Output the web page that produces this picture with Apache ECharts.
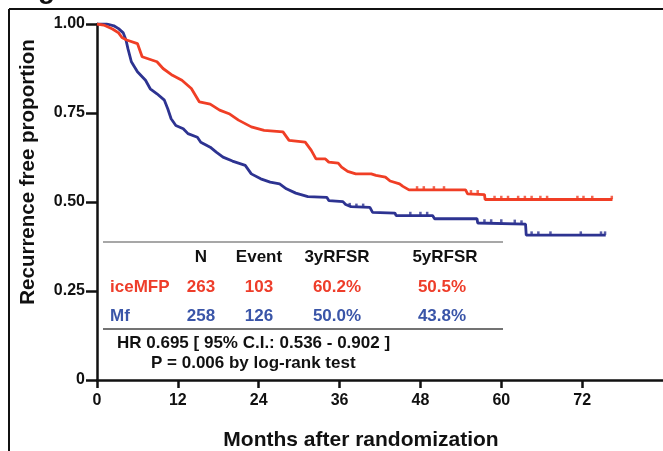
<!DOCTYPE html>
<html>
<head>
<meta charset="utf-8">
<script src="https://cdn.jsdelivr.net/npm/echarts@6/dist/echarts.min.js"></script>
<style>
html,body{margin:0;padding:0;background:#fff;}
#chart{width:663px;height:451px;}
</style>
</head>
<body>
<div id="chart"></div>
<script>
// Kaplan-Meier curves, [month, proportion]
var iceMFP = [
  [0,1.0],[1.0,0.997],[2.3,0.986],[3.2,0.975],[3.7,0.962],[4.4,0.955],[6.0,0.945],[6.7,0.908],
  [8.9,0.894],[9.8,0.875],[11.2,0.856],[12.6,0.842],[14.0,0.819],[15.2,0.781],[16.8,0.775],
  [18.2,0.758],[19.6,0.748],[21.0,0.73],[22.9,0.711],[24.8,0.701],[27.6,0.697],[28.5,0.673],
  [30.9,0.668],[31.8,0.645],[32.5,0.621],[33.9,0.621],[34.4,0.612],[35.8,0.609],[36.3,0.598],
  [37.2,0.586],[38.4,0.579],[40.7,0.579],[41.4,0.575],[42.8,0.570],[43.5,0.559],[44.9,0.551],
  [45.4,0.544],[46.3,0.534],[54.7,0.534],[55.0,0.523],[57.5,0.521],[57.6,0.507],[76.5,0.507]
];
var Mf = [
  [0,1.0],[1.5,1.0],[2.5,0.995],[3.2,0.987],[3.9,0.975],[4.3,0.955],[4.6,0.93],[5.1,0.894],
  [6.0,0.866],[7.2,0.842],[7.9,0.818],[8.9,0.804],[10.0,0.786],[10.5,0.762],[11.0,0.734],
  [11.7,0.715],[12.8,0.706],[13.5,0.692],[14.9,0.682],[15.4,0.668],[16.8,0.654],[17.7,0.640],
  [18.7,0.626],[20.1,0.615],[22.0,0.603],[22.9,0.579],[24.3,0.565],[25.7,0.556],[27.1,0.551],
  [28.1,0.537],[29.5,0.525],[31.3,0.515],[34.1,0.513],[34.4,0.504],[36.5,0.501],[36.9,0.493],
  [37.7,0.487],[40.5,0.485],[40.9,0.471],[44.2,0.469],[44.4,0.462],[49.8,0.462],[50.1,0.453],
  [56.4,0.453],[56.5,0.441],[63.6,0.438],[63.7,0.407],[75.5,0.407]
];
// censored observations
var iceMFPCensor = [
  [47.5,0.534],[48.5,0.534],[50,0.534],[51.5,0.534],[55.5,0.523],[56.5,0.523],
  [59,0.507],[60,0.507],[61,0.507],[62.5,0.507],[63.5,0.507],[64.5,0.507],[65.8,0.507],
  [66.8,0.507],[71.3,0.507],[72.2,0.507],[73.5,0.507],[76.4,0.507]
];
var MfCensor = [
  [37.5,0.487],[38.5,0.485],[39.5,0.485],[46.5,0.462],[48,0.462],[49,0.462],
  [57.5,0.441],[58.5,0.441],[60,0.441],[62,0.440],[63,0.438],
  [64.5,0.407],[65.5,0.407],[67.3,0.407],[71.8,0.407],[74.8,0.407],[75.4,0.407]
];
var xTicks = [0,12,24,36,48,60,72];

// summary table
var tableHead = ['N','Event','3yRFSR','5yRFSR'];
var tableRows = [
  ['iceMFP','263','103','60.2%','50.5%'],
  ['Mf','258','126','50.0%','43.8%']
];
var hrText = 'HR 0.695 [ 95% C.I.: 0.536 - 0.902 ]';
var pText = 'P = 0.006 by log-rank test';

var RED = '#f03e25', BLUE = '#2d3391';
var TRED = '#ee3d2a', TBLUE = '#3a55a8';
var FONT = '"Liberation Sans", Arial, sans-serif';
var TF = 'bold 17px ' + FONT;

var chart = echarts.init(document.getElementById('chart'));

var colX = [201,259,337,445];
var rowY = [257,287,316];
var graphics = [
  // frame
  {type:'line',shape:{x1:9,y1:9,x2:663,y2:9},style:{stroke:'#111',lineWidth:2}},
  {type:'line',shape:{x1:9,y1:9,x2:9,y2:451},style:{stroke:'#111',lineWidth:2}},
  {type:'text',x:38,y:4,style:{text:'g',font:'bold 28px '+FONT,fill:'#111',textVerticalAlign:'bottom'}},
  // table rules
  {type:'line',shape:{x1:103,y1:242,x2:503,y2:242},style:{stroke:'#8a8a8a',lineWidth:1.5}},
  {type:'line',shape:{x1:103,y1:329,x2:503,y2:329},style:{stroke:'#444',lineWidth:1.5}},
  // axis titles
  {type:'text',x:361,y:440,style:{text:'Months after randomization',font:'bold 21px '+FONT,fill:'#111',textAlign:'center',textVerticalAlign:'middle'}},
  {type:'text',x:28,y:172,rotation:Math.PI/2,style:{text:'Recurrence free proportion',font:'bold 20.5px '+FONT,fill:'#111',textAlign:'center',textVerticalAlign:'middle'}},
  {type:'text',x:117,y:343,style:{text:hrText,font:TF,fill:'#111',textVerticalAlign:'middle'}},
  {type:'text',x:151,y:363,style:{text:pText,font:TF,fill:'#111',textVerticalAlign:'middle'}}
];
tableHead.forEach(function(h,i){
  graphics.push({type:'text',x:colX[i],y:rowY[0],style:{text:h,font:TF,fill:'#111',textAlign:'center',textVerticalAlign:'middle'}});
});
tableRows.forEach(function(r,j){
  var c = j===0 ? TRED : TBLUE;
  graphics.push({type:'text',x:110,y:rowY[j+1],style:{text:r[0],font:TF,fill:c,textVerticalAlign:'middle'}});
  for (var i=1;i<r.length;i++){
    graphics.push({type:'text',x:colX[i-1]-(i===4?3:0),y:rowY[j+1],style:{text:r[i],font:TF,fill:c,textAlign:'center',textVerticalAlign:'middle'}});
  }
});

function censorSeries(data,color){
  return {type:'scatter',data:data,symbol:'rect',symbolSize:[2.5,3.5],symbolOffset:[0,-2],
    itemStyle:{color:color},silent:true,z:4};
}

var option = {
  animation:false,
  backgroundColor:'#fff',
  grid:{left:97,top:24,width:84*7.117,height:356,containLabel:false},
  xAxis:{
    type:'value',min:0,max:84,interval:12,
    axisLine:{show:true,onZero:false,lineStyle:{color:'#111',width:2.5}},
    axisTick:{show:true,length:8,lineStyle:{color:'#111',width:2.5},customValues:xTicks},
    axisLabel:{margin:13,fontSize:16,fontWeight:'bold',color:'#111',fontFamily:FONT,customValues:xTicks},
    splitLine:{show:false}
  },
  yAxis:{
    type:'value',min:0,max:1,interval:0.25,
    axisLine:{show:true,onZero:false,lineStyle:{color:'#111',width:2.5}},
    axisTick:{show:true,length:11,lineStyle:{color:'#111',width:2.5}},
    axisLabel:{margin:12,fontSize:16,fontWeight:'bold',color:'#111',fontFamily:FONT,
      formatter:function(v){return v===0?'0':v.toFixed(2);}},
    splitLine:{show:false}
  },
  series:[
    {type:'line',data:iceMFP,showSymbol:false,lineStyle:{color:RED,width:2.8},z:3},
    {type:'line',data:Mf,showSymbol:false,lineStyle:{color:BLUE,width:2.8},z:2},
    censorSeries(iceMFPCensor,RED),
    censorSeries(MfCensor,BLUE)
  ],
  graphic:graphics
};
chart.setOption(option);
</script>
</body>
</html>
